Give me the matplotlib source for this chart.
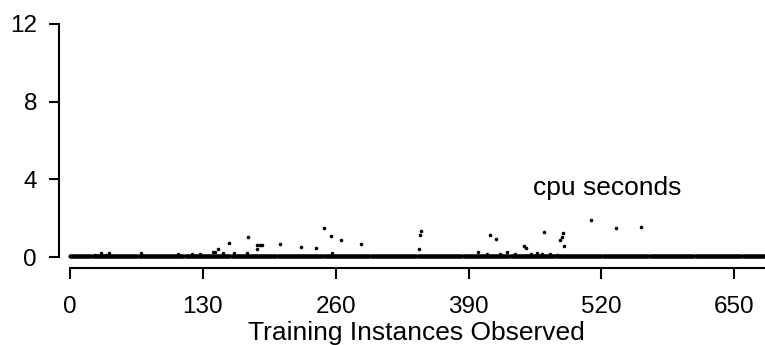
import numpy as np
import matplotlib
matplotlib.use("Agg")
import matplotlib.pyplot as plt

plt.rcParams['font.family'] = ['Liberation Sans', 'DejaVu Sans']

# ---- data ----
n_instances = 680                      # instances 0 .. 679
baseline_cpu = 0.03                    # nearly every instance takes ~0 cpu seconds

# small bumps just above the baseline
small_x = [24, 30, 35, 38, 69, 105.5, 119, 127, 140, 142, 150, 160, 173, 256,
           399, 408, 421, 428, 435, 451, 457, 462, 470, 476]
small_y = [0.10, 0.19, 0.12, 0.19, 0.19, 0.15, 0.16, 0.16, 0.26, 0.26, 0.19, 0.19, 0.22, 0.19,
           0.27, 0.13, 0.15, 0.24, 0.14, 0.15, 0.22, 0.14, 0.13, 0.12]

# larger outliers
out_x = [145, 156, 174, 183, 186, 188, 183, 205, 226, 241, 248.5, 255, 265, 285,
         341, 342, 343, 411, 417, 444, 446, 464, 479, 481, 482, 483, 510, 534, 559]
out_y = [0.40, 0.70, 1.05, 0.63, 0.63, 0.63, 0.40, 0.65, 0.53, 0.45, 1.51, 1.08, 0.88, 0.69,
         0.41, 1.13, 1.34, 1.13, 0.93, 0.58, 0.45, 1.27, 0.88, 1.05, 1.22, 0.58, 1.89, 1.51, 1.56]

x_ticks = [0, 130, 260, 390, 520, 650]
y_ticks = [0, 4, 8, 12]
series_label = "cpu seconds"
x_label = "Training Instances Observed"

# ---- figure ----
W, H = 765, 345
fig = plt.figure(figsize=(W / 100, H / 100), dpi=100)
ax_left, ax_bottom_px, ax_top_px = 59, 267.7, 24
ax = fig.add_axes([ax_left / W, (H - ax_bottom_px) / H,
                   (W - ax_left) / W, (ax_bottom_px - ax_top_px) / H])

inst = np.arange(n_instances)
cpu = np.full(n_instances, baseline_cpu)
ax.plot(inst, cpu, 'o', ms=3.0, color='black', mec='none', clip_on=False)
ax.plot(small_x, small_y, 'o', ms=2.5, color='black', mec='none')
ax.plot(out_x, out_y, 'o', ms=2.6, color='black', mec='none')

ax.set_xlim(-10.8, 680)
ax.set_ylim(-0.55, 12)
ax.set_xticks(x_ticks)
ax.set_yticks(y_ticks)

for s in ['top', 'right']:
    ax.spines[s].set_visible(False)
ax.spines['left'].set_bounds(0, 12)
ax.spines['bottom'].set_bounds(0, 680)
for s in ['left', 'bottom']:
    ax.spines[s].set_linewidth(1.5)

ax.tick_params(axis='y', length=7.3, width=1.5, pad=8.5, labelsize=17.5)
ax.tick_params(axis='x', length=7.6, width=1.5, pad=13, labelsize=17.5)

ax.set_xlabel(x_label, fontsize=19)
ax.xaxis.set_label_coords(0.506, -(321 - ax_bottom_px) / (ax_bottom_px - ax_top_px))
ax.text(526, 3.19, series_label, fontsize=19, ha='center', va='baseline')

fig.savefig("out.png", dpi=100)
